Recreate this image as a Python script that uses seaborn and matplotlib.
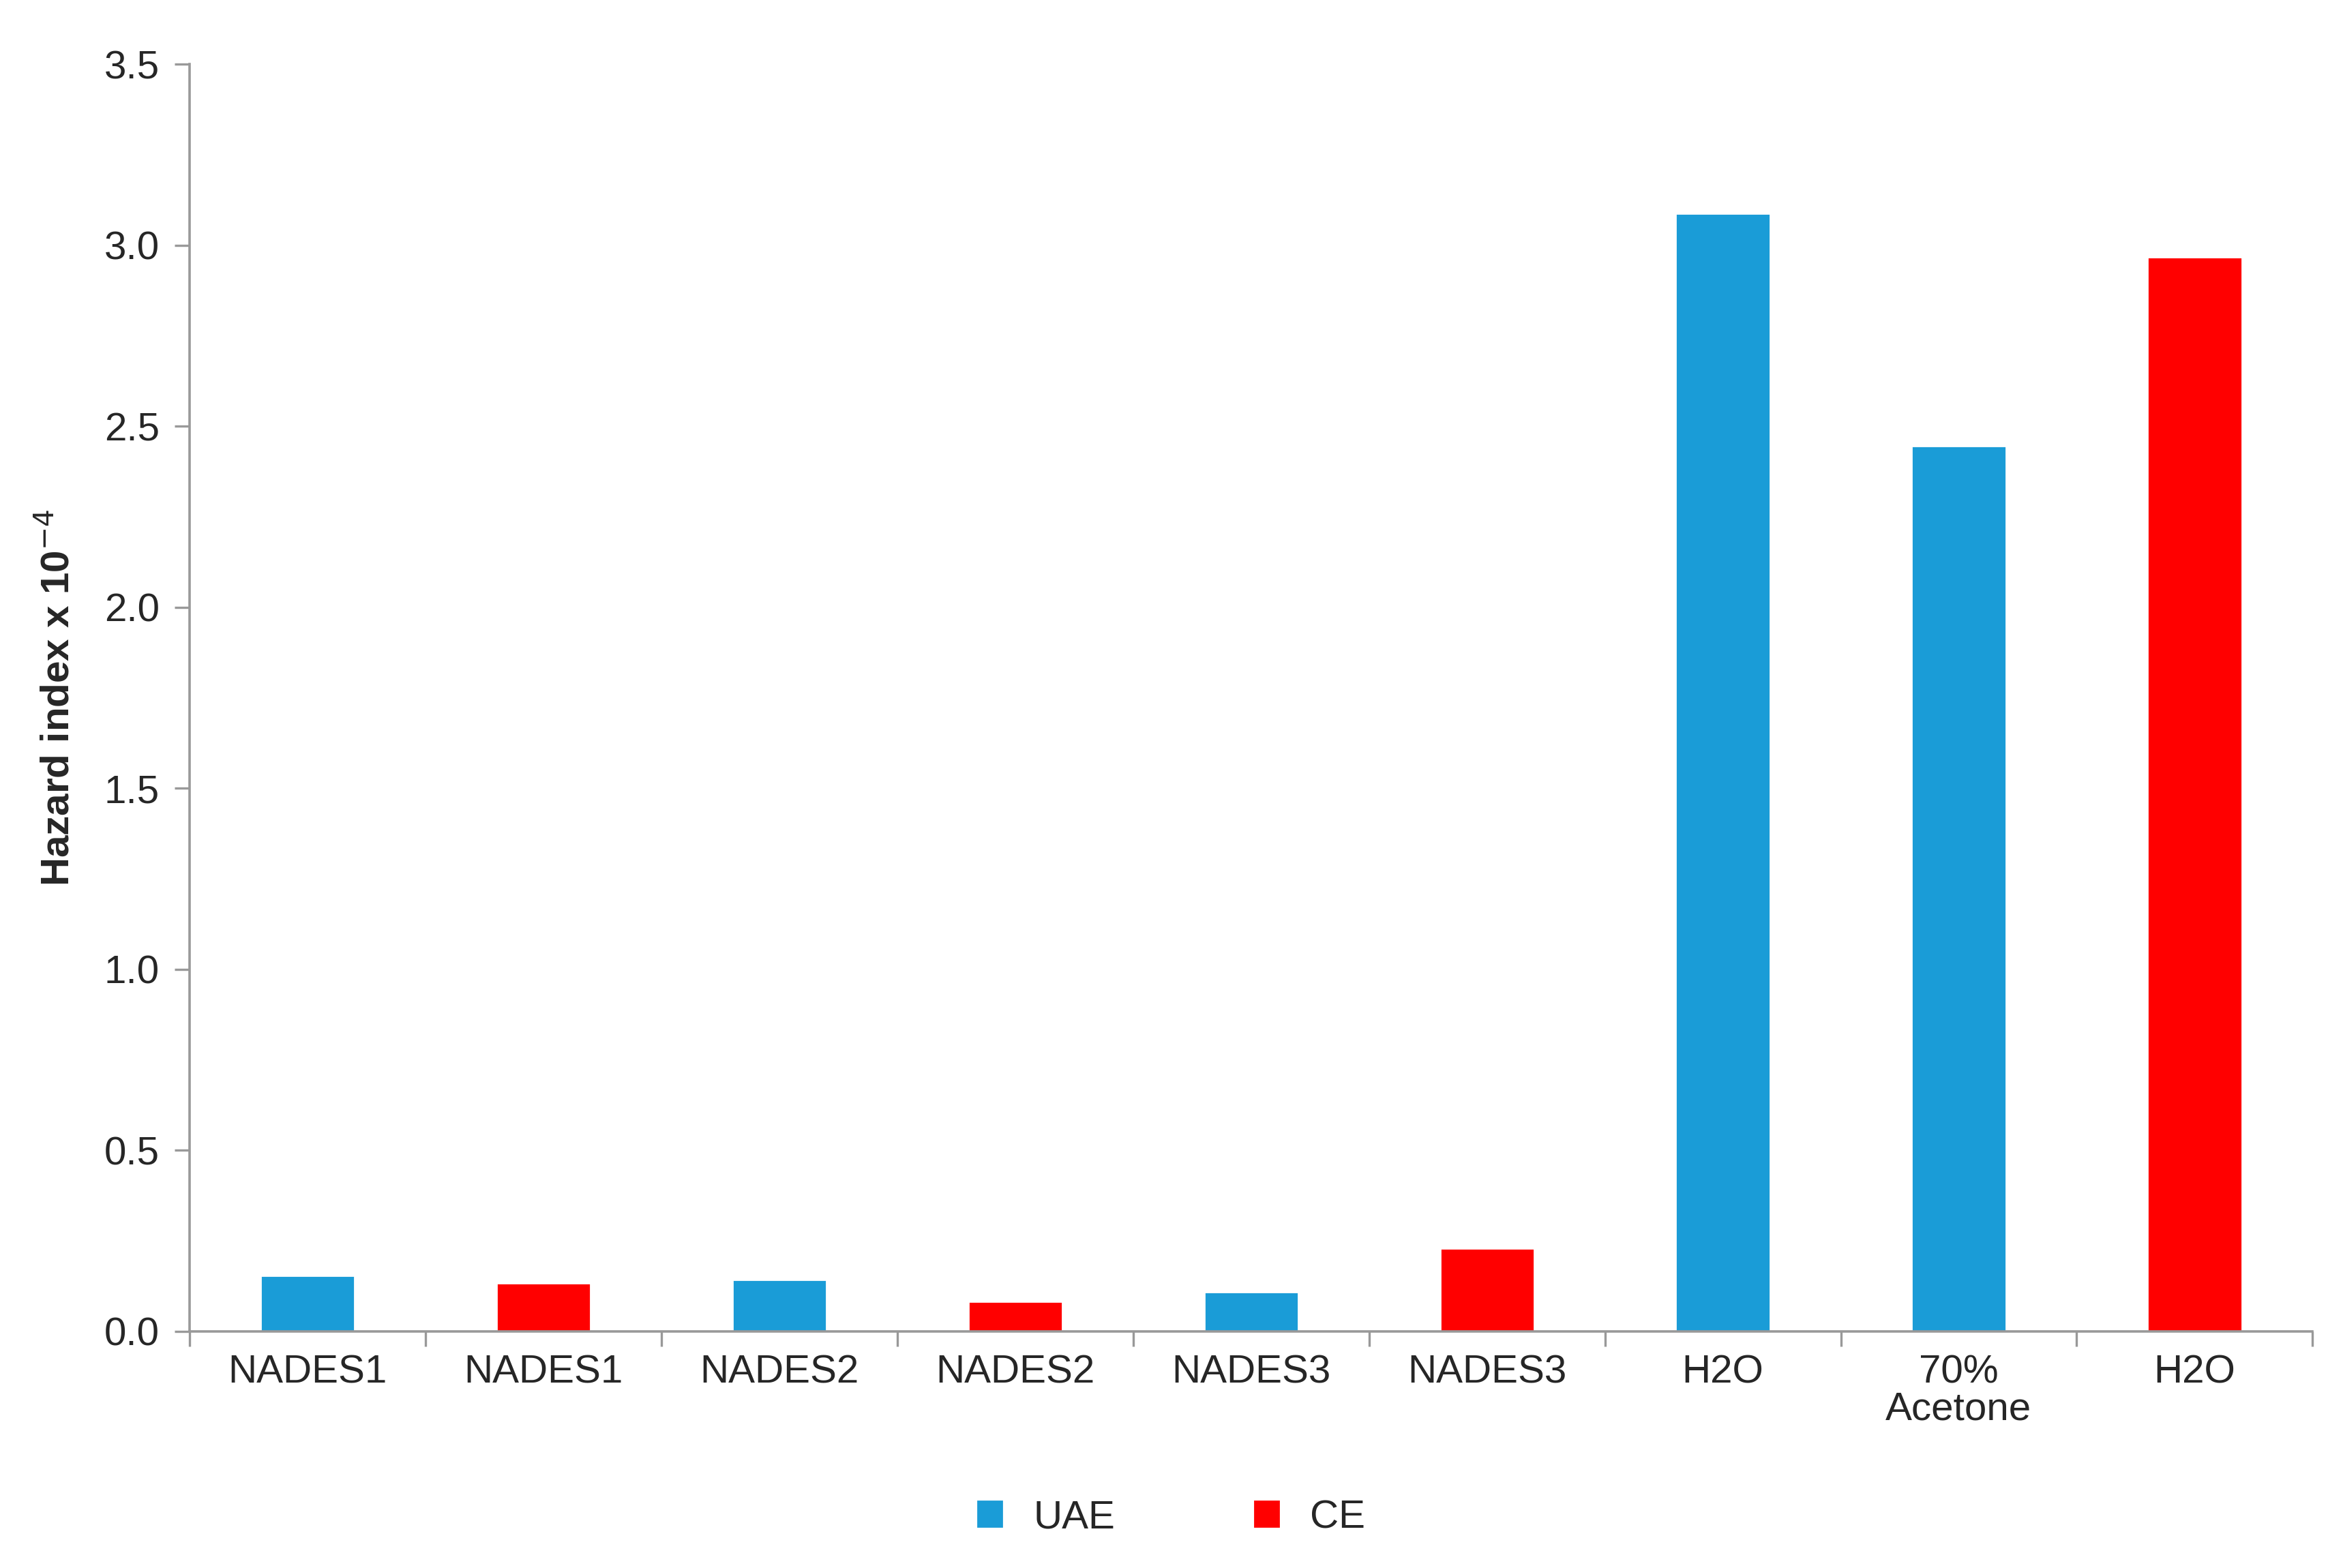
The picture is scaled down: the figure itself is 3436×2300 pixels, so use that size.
import matplotlib
matplotlib.use("Agg")
import matplotlib.pyplot as plt
import seaborn as sns
import pandas as pd
import numpy as np
from matplotlib.patches import Patch

labels = ["NADES1", "NADES1", "NADES2", "NADES2", "NADES3", "NADES3", "H2O", "70%\nAcetone", "H2O"]
methods = ["UAE", "CE", "UAE", "CE", "UAE", "CE", "UAE", "UAE", "CE"]
values = [0.154, 0.133, 0.142, 0.083, 0.108, 0.229, 3.088, 2.446, 2.967]
colors = {"UAE": "#1A9CD7", "CE": "#FF0000"}

sns.set_theme(style="white")
plt.rcParams['font.family'] = ['Liberation Sans', 'DejaVu Sans']

df = pd.DataFrame({"pos": [str(i) for i in range(len(labels))], "method": methods, "value": values})

fig = plt.figure(figsize=(17.18, 11.5), dpi=200)
ax = fig.add_axes([0.081, 0.151, 0.906, 0.808])
sns.barplot(data=df, x="pos", y="value", hue="method", palette=colors, dodge=False,
            width=0.4, ax=ax, legend=False, saturation=1)
ax.set_xlim(-0.5, len(labels) - 0.5)
ax.set_ylim(0, 3.5)
ax.set_yticks(np.arange(0, 3.51, 0.5))
ax.set_yticklabels([f"{v:.1f}" for v in np.arange(0, 3.51, 0.5)], fontsize=21)
ax.set_xticks(range(len(labels)))
ax.set_xticklabels(labels, fontsize=21, linespacing=1.0)
ax.set_xticks(np.arange(-0.5, len(labels), 1), minor=True)
ax.tick_params(axis="x", which="major", length=0, pad=12)
ax.tick_params(axis="x", which="minor", length=8, width=1.2, color="#999999", direction="out", bottom=True)
ax.tick_params(axis="y", length=8, width=1.2, color="#999999", direction="out", left=True, pad=8)
ax.set_xlabel("")
ax.set_ylabel("Hazard index x 10$^{-4}$", fontsize=21, fontweight="bold", labelpad=14)
for s in ["top", "right"]:
    ax.spines[s].set_visible(False)
for s in ["left", "bottom"]:
    ax.spines[s].set_color("#999999")
    ax.spines[s].set_linewidth(1.3)

handles = [Patch(color=colors["UAE"], label="UAE"), Patch(color=colors["CE"], label="CE")]
fig.legend(handles=handles, loc="center", bbox_to_anchor=(0.5, 0.032), ncol=2, frameon=False,
           fontsize=21, handlelength=0.6, handleheight=0.6, columnspacing=3.5, handletextpad=0.8)
fig.savefig("out.png", dpi=200, facecolor="white")
